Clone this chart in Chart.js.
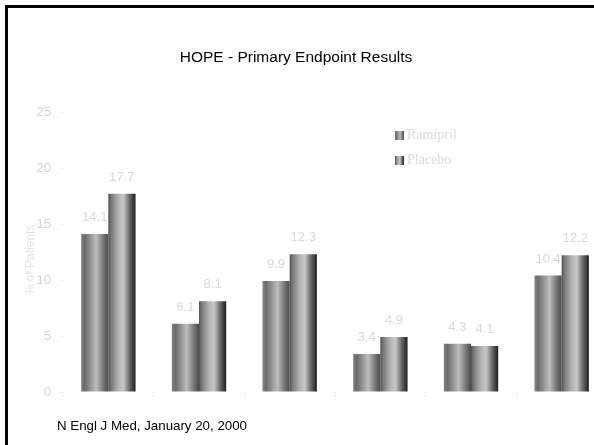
<!DOCTYPE html>
<html>
<head>
<meta charset="utf-8">
<script src="https://cdn.jsdelivr.net/npm/chart.js@4/dist/chart.umd.min.js"></script>
<style>
  html, body { margin: 0; padding: 0; background: #fff; overflow: hidden; width: 594px; height: 445px; }
  #wrap { position: absolute; left: 0; top: 0; width: 620px; height: 445px; }
  #frame { position: absolute; left: 5px; top: 5px; width: 600px; height: 450px;
           border-left: 3px solid #000; border-top: 3px solid #000; pointer-events: none; }
</style>
</head>
<body>
<div id="wrap"><canvas id="c" width="620" height="445"></canvas></div>
<div id="frame"></div>
<script>
const categories = ["Primary endpoint", "CV death", "MI", "Stroke", "Non-CV death", "All-cause death"];
const ramipril = [14.1, 6.1, 9.9, 3.4, 4.3, 10.4];
const placebo  = [17.7, 8.1, 12.3, 4.9, 4.1, 12.2];
const seriesNames = ["Ramipril", "Placebo"];
const yTicks = [0, 5, 10, 15, 20, 25];
const titleText = "HOPE - Primary Endpoint Results";
const footText = "N Engl J Med, January 20, 2000";
const yTitle = "% of Patients";

const stopsR = [[0, '#8a8a8a'], [0.12, '#6a6a6a'], [0.3, '#8c8c8c'], [0.55, '#bdbdbd'], [0.8, '#7a7a7a'], [1, '#4a4a4a']];
const stopsP = [[0, '#505050'], [0.1, '#777'], [0.35, '#b0b0b0'], [0.55, '#c8c8c8'], [0.82, '#5a5a5a'], [1, '#1e1e1e']];

function barGradient(stops) {
  return function (ctx) {
    const chart = ctx.chart;
    const meta = chart.getDatasetMeta(ctx.datasetIndex);
    const el = meta && meta.data ? meta.data[ctx.dataIndex] : null;
    if (!el || !isFinite(el.x) || !isFinite(el.width) || !el.width) return '#999';
    const x0 = el.x - el.width / 2, x1 = el.x + el.width / 2;
    const g = chart.ctx.createLinearGradient(x0, 0, x1, 0);
    stops.forEach(s => g.addColorStop(s[0], s[1]));
    return g;
  };
}

const decor = {
  id: 'decor',
  afterDatasetsDraw(chart) {
    const c = chart.ctx;
    c.save();
    // value labels
    c.font = '13px "Liberation Sans", Arial, sans-serif';
    c.fillStyle = '#d8d8d8';
    c.textAlign = 'center';
    c.textBaseline = 'bottom';
    chart.data.datasets.forEach((ds, di) => {
      chart.getDatasetMeta(di).data.forEach((el, i) => {
        c.fillText(String(ds.data[i].toFixed(1)), el.x, el.y - 10);
      });
    });
    // legend
    const lx = 395, ly = [135, 160];
    c.textAlign = 'left';
    c.textBaseline = 'middle';
    c.font = '14px "Liberation Serif", "Times New Roman", serif';
    chart.data.datasets.forEach((ds, di) => {
      const stops = di === 0 ? stopsR : stopsP;
      const g = c.createLinearGradient(lx, 0, lx + 9, 0);
      stops.forEach(s => g.addColorStop(s[0], s[1]));
      c.fillStyle = g;
      c.fillRect(lx, ly[di] - 4, 9, 9);
      c.fillStyle = '#d8d8d8';
      c.fillText(ds.label, lx + 12, ly[di]);
    });
    // title
    c.fillStyle = '#000';
    c.textAlign = 'center';
    c.font = '15.5px "Liberation Sans", Arial, sans-serif';
    c.fillText(titleText, 296, 58);
    // footnote
    c.textAlign = 'left';
    c.font = '13.3px "Liberation Sans", Arial, sans-serif';
    c.fillText(footText, 57, 426);
    // y axis title
    c.save();
    c.translate(31, 260);
    c.rotate(-Math.PI / 2);
    c.textAlign = 'center';
    c.fillStyle = '#e2e2e2';
    c.font = '12px "Liberation Sans", Arial, sans-serif';
    c.fillText(yTitle, 0, 0);
    c.restore();
    c.restore();
  }
};

const chart = new Chart(document.getElementById('c'), {
  type: 'bar',
  data: {
    labels: categories,
    datasets: [
      { label: seriesNames[0], data: ramipril, backgroundColor: barGradient(stopsR), borderWidth: 0 },
      { label: seriesNames[1], data: placebo, backgroundColor: barGradient(stopsP), borderWidth: 0 }
    ]
  },
  options: {
    responsive: false,
    animation: false,
    devicePixelRatio: 1,
    layout: { padding: { top: 112, bottom: 53, left: 0, right: 13 } },
    plugins: { legend: { display: false }, title: { display: false }, tooltip: { enabled: false } },
    datasets: { bar: { categoryPercentage: 0.6, barPercentage: 1.0 } },
    scales: {
      x: {
        offset: true,
        ticks: { display: false },
        grid: { display: true, drawOnChartArea: false, offset: true, tickLength: 4, color: '#d8d8d8', tickBorderDash: [1, 2] },
        border: { display: false },
        afterFit(s) { s.height = 0; }
      },
      y: {
        min: 0, max: 25,
        afterBuildTicks(s) { s.ticks = yTicks.map(v => ({ value: v })); },
        ticks: { color: '#d4d4d4', font: { size: 13, family: '"Liberation Sans", Arial, sans-serif' }, padding: 8 },
        grid: { drawOnChartArea: false, tickLength: 4, color: '#d8d8d8', tickBorderDash: [1, 2] },
        border: { display: false },
        afterFit(s) { s.width = 63; }
      }
    }
  },
  plugins: [decor]
});
chart.update();
</script>
</body>
</html>
